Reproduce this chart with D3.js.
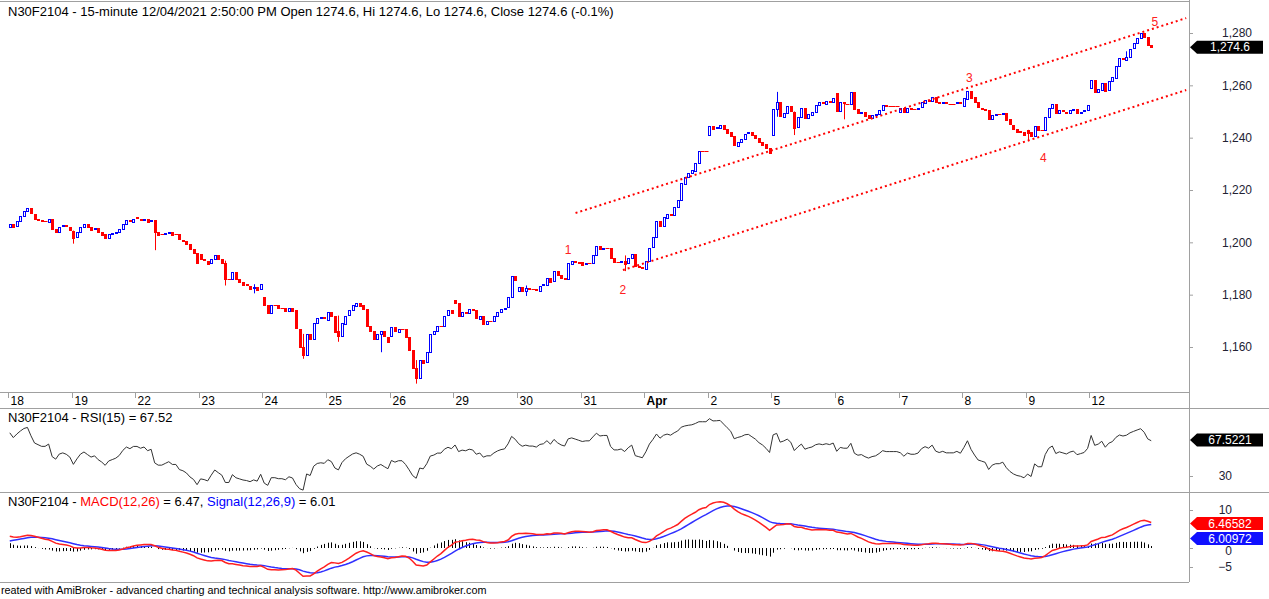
<!DOCTYPE html>
<html>
<head>
<meta charset="utf-8">
<script src="https://cdn.jsdelivr.net/npm/d3@7"></script>
<style>
  body { margin: 0; background: #fff; }
  svg { display: block; font-family: "Liberation Sans", Arial, sans-serif; }
</style>
</head>
<body>
<div id="chart"></div>
<script>
// trading days shown on the x axis, 18 fifteen-minute bars each
const dayLabels = ["18", "19", "22", "23", "24", "25", "26", "29", "30", "31", "Apr", "2", "5", "6", "7", "8", "9", "12"];
// open of the first bar of each day (later bars open at the previous close)
const dayOpens = [1206, 1204.5, 1209.5, 1195.5, 1179, 1170.5, 1164, 1178, 1181.5, 1192.5, 1190, 1241, 1241, 1257, 1250, 1252, 1243, 1259];
// closes, one row per day
const dayCloses = [
  [1207, 1206, 1208, 1210, 1212, 1213, 1211, 1209, 1208.5, 1208, 1208, 1209, 1205, 1204, 1206, 1206.5, 1206, 1205],
  [1202, 1204, 1206, 1207, 1206, 1205, 1205.5, 1204, 1203, 1201.5, 1203, 1203.5, 1204, 1205, 1207, 1208.5, 1208, 1209],
  [1209, 1208.5, 1209, 1208, 1208.5, 1204, 1203, 1203, 1203.5, 1204, 1203, 1203, 1201, 1200.5, 1199.5, 1197.5, 1196, 1192],
  [1193.5, 1193, 1192, 1193.5, 1195, 1193.5, 1192, 1186, 1186, 1188.5, 1186, 1185, 1184, 1183.5, 1182.5, 1183, 1182, 1184],
  [1176, 1173, 1176, 1176, 1175, 1175, 1174, 1175, 1174, 1167, 1160, 1157, 1165, 1163, 1169, 1171, 1171.5, 1171],
  [1173.5, 1172, 1166, 1164, 1169, 1172, 1174, 1176, 1177, 1176, 1174.5, 1168, 1166, 1163, 1165, 1166, 1164, 1162],
  [1167.5, 1166, 1167, 1167, 1164, 1159, 1152, 1148, 1155, 1154, 1158, 1165, 1166, 1168, 1168, 1172, 1174, 1173],
  [1177, 1172, 1173.5, 1173, 1174.5, 1174, 1171, 1172, 1169, 1170, 1170, 1172, 1173.5, 1174.5, 1175, 1179, 1187, 1185.5],
  [1183, 1181.5, 1182.5, 1182, 1182, 1181.5, 1183.5, 1184, 1186.5, 1185, 1189, 1187.5, 1186.5, 1186, 1192, 1193, 1192.5, 1192],
  [1191.5, 1192, 1192, 1195, 1198.5, 1197.5, 1198, 1198, 1194, 1192.5, 1192.5, 1193, 1192, 1194, 1195.5, 1191, 1190.5, 1190],
  [1193, 1198, 1202, 1208, 1206, 1209.5, 1211, 1210.5, 1213.5, 1216, 1222.5, 1225, 1226.5, 1227.5, 1230.5, 1235, 1235, 1235],
  [1244.5, 1243.5, 1244, 1245, 1243.5, 1242, 1240.5, 1237, 1238.5, 1239.5, 1241.5, 1242, 1241, 1240, 1238.5, 1237.5, 1236, 1234],
  [1251, 1253.5, 1248, 1249.5, 1252, 1250, 1244, 1248, 1251.5, 1247.5, 1249, 1250, 1252.5, 1253.5, 1253, 1254, 1253.5, 1255],
  [1250, 1253.5, 1253, 1253, 1257.5, 1251, 1249.5, 1250, 1248.5, 1247.5, 1248.5, 1249, 1250.5, 1252.5, 1252, 1252, 1252, 1252],
  [1251.5, 1250, 1251.5, 1251, 1251, 1251.5, 1253.5, 1254.5, 1254, 1255.5, 1253.5, 1253, 1253.5, 1253, 1253, 1253, 1253.5, 1253],
  [1255, 1258, 1255.5, 1253.5, 1251.5, 1251, 1250.5, 1247, 1248.5, 1249, 1249, 1249.5, 1247, 1245, 1243.5, 1242.5, 1242, 1241],
  [1242, 1240.5, 1244.5, 1243, 1243, 1248, 1251.5, 1253, 1249.5, 1250.5, 1250, 1249.5, 1250.5, 1251, 1249.5, 1250, 1250.5, 1252.5],
  [1262, 1257.5, 1258.5, 1261, 1258, 1261.5, 1263, 1267.5, 1270.5, 1270, 1271, 1274, 1276, 1278, 1280, 1278.5, 1275.5, 1274.6]
];
// the longer shadows that stick out of the bodies
const wickBars = [18, 41, 61, 69, 83, 93, 105, 115, 146, 174, 217, 222, 236, 288, 316];
const wickHighs = [1204.5, 1208.5, 1193, 1184, 1165, 1172, 1166, 1155, 1183.5, 1195, 1257.5, 1250, 1253.5, 1243, 1273];
const wickLows = [1199.5, 1197, 1183.5, 1180.5, 1155.5, 1162, 1158, 1146, 1179.5, 1189, 1248, 1241, 1247, 1239, 1270];

const priceTicks = [1160, 1180, 1200, 1220, 1240, 1260, 1280];
const rsiTicks = [30];
const macdTicks = [-5, 0, 10];

// channel lines [bar index, price]
const channelUpper = [[160.6, 1211.2], [333.4, 1285.7]];
const channelLower = [[174, 1189.4], [333.4, 1258.2]];
// elliott wave labels
const waveLabels = ["1", "2", "3", "4", "5"];
const waveBars = [158.5, 174, 272, 293, 324.5];
const wavePrices = [1197, 1181.8, 1262.8, 1232.2, 1284.2];

// indicator state carried in from before the first bar
const rsiSeed = { gain: 0.75, loss: 0.25 };
const emaSeed = { fast: 1205.5, slow: 1202.3, signal: 1.5 };
const lastRsi = 67.5221, lastMacd = 6.46582, lastSignal = 6.00972;

const W = 1269, H = 599;
const perDay = 18;

// build bars
const bars = [];
dayCloses.forEach((day, d) => {
  day.forEach((c, j) => {
    const i = bars.length;
    const o = j === 0 ? dayOpens[d] : bars[i - 1].c;
    bars.push({ i, o, c, h: Math.max(o, c), l: Math.min(o, c) });
  });
});
wickBars.forEach((bi, k) => {
  bars[bi].h = Math.max(bars[bi].h, wickHighs[k]);
  bars[bi].l = Math.min(bars[bi].l, wickLows[k]);
});
const n = bars.length;

// RSI(15), Wilder smoothing
let ag = rsiSeed.gain, al = rsiSeed.loss;
bars.forEach((b, i) => {
  if (i > 0) {
    const ch = b.c - bars[i - 1].c;
    ag = (ag * 14 + Math.max(ch, 0)) / 15;
    al = (al * 14 + Math.max(-ch, 0)) / 15;
  }
  b.rsi = 100 * ag / (ag + al);
});

// MACD(12,26) and signal(9)
let e12 = emaSeed.fast, e26 = emaSeed.slow, sig = emaSeed.signal;
bars.forEach(b => {
  e12 += (b.c - e12) * 2 / 13;
  e26 += (b.c - e26) * 2 / 27;
  b.macd = e12 - e26;
  sig += (b.macd - sig) * 2 / 10;
  b.sig = sig;
});

const svg = d3.select("#chart").append("svg").attr("width", W).attr("height", H);

const axisX = 1189;
const x = d3.scaleLinear().domain([0, n]).range([8, 1153]);
const yP = d3.scaleLinear().domain([1160, 1280]).range([347, 33]);
const yR = d3.scaleLinear().domain([0, 100]).range([504.8, 408.8]);
const yM = d3.scaleLinear().domain([-5, 10]).range([567, 510]);

const defs = svg.append("defs");
[["clipP", 0, 392], ["clipR", 409, 492], ["clipM", 494, 582]].forEach(([id, y0, y1]) => {
  defs.append("clipPath").attr("id", id).append("rect")
    .attr("x", 0).attr("y", y0).attr("width", axisX).attr("height", y1 - y0);
});

// frame lines
const grey = "#a0a0a0";
[[1.5, axisX], [392.5, axisX], [408.5, W], [492.5, W], [582.5, axisX]].forEach(([yy, x2]) => {
  svg.append("line").attr("x1", 0).attr("x2", x2).attr("y1", yy).attr("y2", yy)
    .attr("stroke", grey).attr("stroke-width", 1);
});
svg.append("line").attr("x1", axisX + 0.5).attr("x2", axisX + 0.5).attr("y1", 0).attr("y2", 582)
  .attr("stroke", grey);

// ---- price panel
const gP = svg.append("g").attr("clip-path", "url(#clipP)");

const candles = gP.selectAll("g.c").data(bars).enter().append("g");
candles.each(function (b) {
  const g = d3.select(this);
  const cx = Math.round(x(b.i + 0.5));
  const up = b.c > b.o;
  const col = up ? "#0000ff" : "#ff0000";
  const top = yP(Math.max(b.o, b.c)), bot = yP(Math.min(b.o, b.c));
  if (b.h > Math.max(b.o, b.c) || b.l < Math.min(b.o, b.c)) {
    g.append("line").attr("x1", cx + 0.5).attr("x2", cx + 0.5)
      .attr("y1", yP(b.h)).attr("y2", yP(b.l)).attr("stroke", col);
  }
  if (bot - top < 1) {
    g.append("line").attr("x1", cx - 1.5).attr("x2", cx + 2.5)
      .attr("y1", Math.round(top) + 0.5).attr("y2", Math.round(top) + 0.5)
      .attr("stroke", col);
  } else {
    g.append("rect").attr("x", cx - 0.5).attr("width", 2)
      .attr("y", Math.round(top) + 0.5).attr("height", Math.max(1, Math.round(bot - top)))
      .attr("fill", up ? "#fff" : col).attr("stroke", col);
  }
});

// channel
[channelUpper, channelLower].forEach(pts => {
  gP.append("line")
    .attr("x1", x(pts[0][0])).attr("y1", yP(pts[0][1]))
    .attr("x2", x(pts[1][0])).attr("y2", yP(pts[1][1]))
    .attr("stroke", "#ff0000").attr("stroke-width", 2).attr("stroke-dasharray", "2,3");
});

gP.selectAll("text.wave").data(waveLabels).enter().append("text")
  .attr("x", (d, i) => x(waveBars[i])).attr("y", (d, i) => yP(wavePrices[i]))
  .attr("dy", "0.35em").attr("text-anchor", "middle")
  .attr("font-size", 12).attr("fill", "#ff2020").text(d => d);

svg.append("text").attr("x", 8).attr("y", 16).attr("font-size", 13).attr("fill", "#000")
  .text("N30F2104 - 15-minute 12/04/2021 2:50:00 PM Open 1274.6, Hi 1274.6, Lo 1274.6, Close 1274.6 (-0.1%)");

// right price axis
const axP = svg.append("g").attr("transform", `translate(${axisX},0)`)
  .call(d3.axisRight(yP).tickValues(priceTicks).tickSize(4).tickFormat(d3.format(",")));
axP.select(".domain").remove();
axP.selectAll("line").attr("stroke", grey);
axP.selectAll("text").attr("x", 63).attr("text-anchor", "end")
  .attr("font-size", 12).attr("font-family", "Liberation Sans, Arial").attr("fill", "#223");

const boxes = [];
function valueBox(yy, label, fill) {
  // stack boxes that would overlap, as the reference does
  boxes.forEach(b => { if (Math.abs(b - yy) < 15) yy = b + 15; });
  boxes.push(yy);
  const g = svg.append("g").attr("transform", `translate(${axisX + 1},${yy})`);
  g.append("path").attr("d", "M0,0 L7,-6.5 L73,-6.5 L73,6.5 L7,6.5 Z").attr("fill", fill);
  g.append("text").attr("x", 40).attr("y", 0).attr("dy", "0.36em").attr("text-anchor", "middle")
    .attr("fill", "#fff").attr("font-size", 12).text(label);
}
valueBox(yP(bars[n - 1].c), d3.format(",.1f")(bars[n - 1].c), "#000");

// date axis
const dayG = svg.append("g");
dayLabels.forEach((lab, d) => {
  const xx = Math.round(x(d * perDay)) + 0.5;
  dayG.append("line").attr("x1", xx).attr("x2", xx).attr("y1", 393).attr("y2", 398).attr("stroke", grey);
  dayG.append("text").attr("x", xx + 2).attr("y", 405)
    .attr("font-size", 12).attr("font-weight", lab === "Apr" ? "bold" : "normal")
    .attr("fill", "#000").text(lab);
});

// ---- RSI panel
const gR = svg.append("g").attr("clip-path", "url(#clipR)");
gR.append("path").datum(bars)
  .attr("d", d3.line().x(b => x(b.i + 0.5)).y(b => yR(b.rsi)))
  .attr("fill", "none").attr("stroke", "#333").attr("stroke-width", 1);
svg.append("text").attr("x", 8).attr("y", 422).attr("font-size", 13).attr("fill", "#000")
  .text("N30F2104 - RSI(15) = 67.52");
const axR = svg.append("g").attr("transform", `translate(${axisX},0)`)
  .call(d3.axisRight(yR).tickValues(rsiTicks).tickSize(4));
axR.select(".domain").remove();
axR.selectAll("line").attr("stroke", grey);
axR.selectAll("text").attr("x", 43).attr("text-anchor", "end").attr("font-size", 12)
  .attr("font-family", "Liberation Sans, Arial").attr("fill", "#223");
valueBox(yR(lastRsi), "67.5221", "#000");

// ---- MACD panel
const gM = svg.append("g").attr("clip-path", "url(#clipM)");
gM.selectAll("line.h").data(bars).enter().append("line")
  .attr("x1", b => Math.round(x(b.i + 0.5)) + 0.5).attr("x2", b => Math.round(x(b.i + 0.5)) + 0.5)
  .attr("y1", yM(0)).attr("y2", b => yM(b.macd - b.sig))
  .attr("stroke", "#000").attr("stroke-width", 1);
gM.append("path").datum(bars)
  .attr("d", d3.line().x(b => x(b.i + 0.5)).y(b => yM(b.sig)))
  .attr("fill", "none").attr("stroke", "#3030ff").attr("stroke-width", 1.5);
gM.append("path").datum(bars)
  .attr("d", d3.line().x(b => x(b.i + 0.5)).y(b => yM(b.macd)))
  .attr("fill", "none").attr("stroke", "#ff2020").attr("stroke-width", 1.5);

const mt = svg.append("text").attr("x", 8).attr("y", 506).attr("font-size", 13).attr("fill", "#000");
mt.append("tspan").text("N30F2104 - ");
mt.append("tspan").attr("fill", "#ff0000").text("MACD(12,26)");
mt.append("tspan").text(" = 6.47, ");
mt.append("tspan").attr("fill", "#0000ff").text("Signal(12,26,9)");
mt.append("tspan").text(" = 6.01");

boxes.length = 0;
valueBox(yM(lastMacd), "6.46582", "#ff0000");
valueBox(yM(lastSignal), "6.00972", "#1010ff");

// drawn after the boxes so the 0 label peeks out below the blue one
const axM = svg.append("g").attr("transform", `translate(${axisX},0)`)
  .call(d3.axisRight(yM).tickValues(macdTicks).tickSize(4).tickFormat(d3.format("d")));
axM.select(".domain").remove();
axM.selectAll("line").attr("stroke", grey);
axM.selectAll("text").attr("x", 43).attr("text-anchor", "end").attr("font-size", 12)
  .attr("font-family", "Liberation Sans, Arial").attr("fill", "#223")
  .attr("y", d => d === 0 ? 3 : 0);

// footer (the first letter is cut off in the original)
svg.append("text").attr("x", 1).attr("y", 594).attr("font-size", 10.8).attr("fill", "#000")
  .text("reated with AmiBroker - advanced charting and technical analysis software. http://www.amibroker.com");
</script>
</body>
</html>
